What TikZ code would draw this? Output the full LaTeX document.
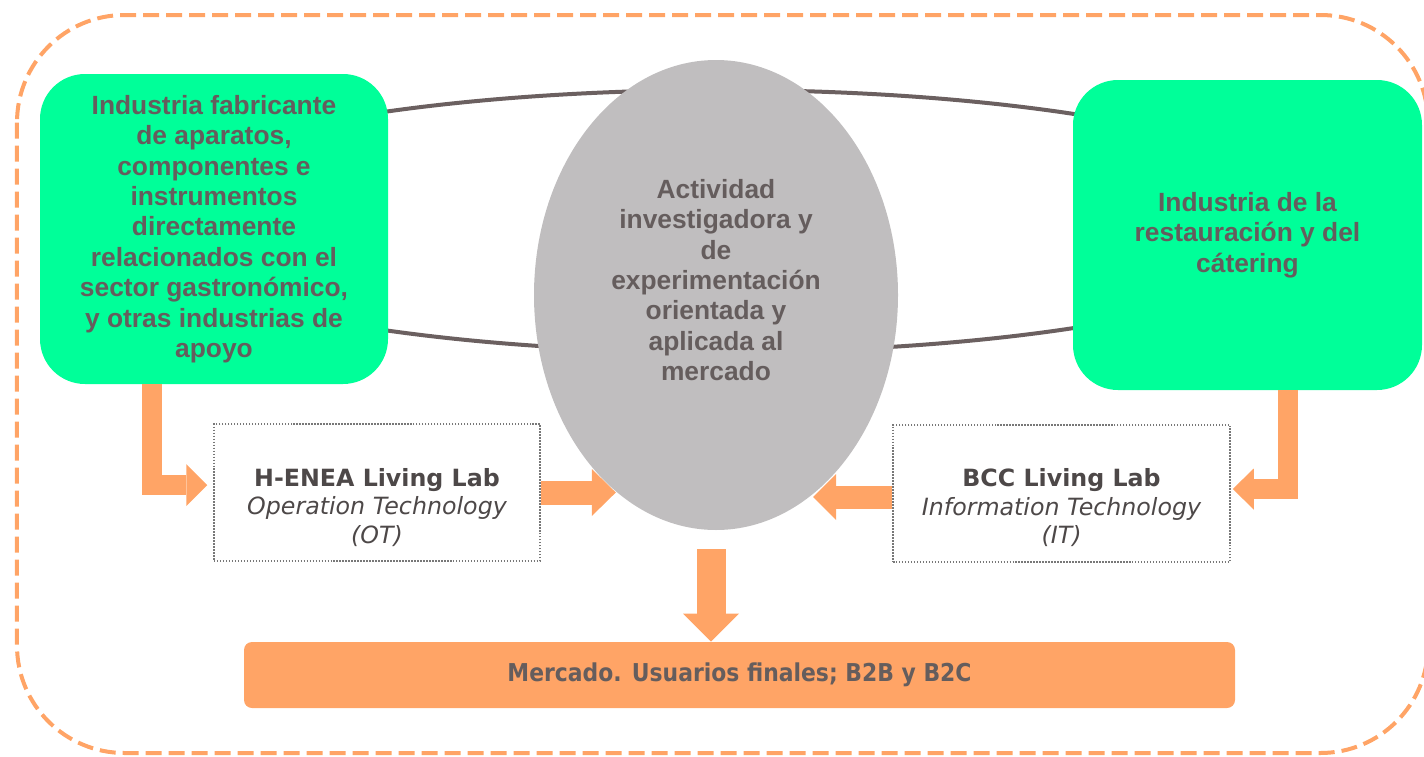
\documentclass[tikz,border=0pt]{standalone}
\usepackage{fontspec}
\setmainfont{Liberation Sans}
\newfontfamily\labfont{DejaVu Sans}
\newfontfamily\mercfont[FakeStretch=0.89]{DejaVu Sans}
\usetikzlibrary{arrows.meta,shapes.geometric}
\definecolor{verde}{RGB}{0,255,153}
\definecolor{naranja}{RGB}{255,164,102}
\definecolor{grisel}{RGB}{192,190,191}
\definecolor{grislazo}{RGB}{107,96,96}
\definecolor{gristexto}{RGB}{101,93,93}
\definecolor{grislab}{RGB}{77,72,72}
\definecolor{grispunto}{RGB}{120,120,120}
\tikzset{
  rotulo/.style={align=center, text=gristexto, font=\bfseries\fontsize{15}{17.3}\selectfont},
  sector/.style={rotulo, rectangle, rounded corners=0.9cm, fill=verde, minimum width=#1, minimum height=6.2cm},
  lab/.style={draw=grispunto, line width=0.85pt, dash pattern=on 0.85pt off 0.85pt, minimum height=2.74cm},
  labtext/.style={align=center, text=grislab, font=\labfont\fontsize{13.5}{16.2}\selectfont},
  flecha/.style n args={3}{draw=naranja, line width=#1, -{Triangle[width=#2, length=#3, line width=0pt]}},
}
\begin{document}
\begin{tikzpicture}
                \useasboundingbox (0,0) rectangle (28.48,-15.12);
                \draw[naranja, line width=0.08cm, dash pattern=on 0.32cm off 0.14cm, rounded corners=2.15cm] (0.34,-0.30) rectangle (28.56,-15.06);

                \node[ellipse, draw=grislazo, line width=0.08cm, minimum width=24.4cm, minimum height=5.24cm] (lazo) at (14.44,-4.42) {};

                \node[sector=6.96cm] (industria) at (4.28,-4.58) {Industria fabricante\\de aparatos,\\componentes e\\instrumentos\\directamente\\relacionados con el\\sector gastronómico,\\y otras industrias de\\apoyo};
                \node[sector=6.98cm] (restauracion) at (24.95,-4.70) {Industria de la\\restauración y del\\cátering};

                \node[ellipse, fill=grisel, inner sep=0pt, minimum width=7.28cm, minimum height=9.4cm] (actividad) at (14.32,-5.90) {};
                \node[rotulo] at (14.32,-5.60) {Actividad\\investigadora y\\de\\experimentación\\orientada y\\aplicada al\\mercado};

                \node[lab, minimum width=6.52cm] (henea) at (7.54,-9.85) {};
                \node[labtext] at (7.54,-10.15) {{\bfseries H-ENEA Living Lab}\\{\itshape Operation Technology}\\{\itshape (OT)}};
                \node[lab, minimum width=6.74cm] (bcc) at (21.23,-9.87) {};
                \node[labtext] at (21.23,-10.16) {{\bfseries BCC Living Lab}\\{\itshape Information Technology}\\{\itshape (IT)}};

                \node[fill=naranja, rounded corners=0.16cm, minimum width=19.82cm, minimum height=1.32cm, text=gristexto, font=\mercfont\bfseries\fontsize{14}{16}\selectfont] (mercado) at (14.79,-13.50) {Mercado. Usuarios finales; B2B y B2C};

                % flechas
                \draw[flecha={0.4cm}{0.84cm}{0.42cm}] ([xshift=-1.24cm]industria.south) |- ([xshift=-0.12cm,yshift=0.15cm]henea.west);
                \draw[flecha={0.48cm}{0.94cm}{0.48cm}] (henea.east) -- (henea.east -| actividad.243);
                \draw[flecha={0.46cm}{0.92cm}{0.46cm}] ([yshift=-0.07cm]bcc.west) -- ([yshift=-0.07cm]bcc.west -| actividad.296);
                \draw[flecha={0.4cm}{0.82cm}{0.42cm}] ([xshift=0.81cm]restauracion.south) |- ([xshift=0.04cm,yshift=0.09cm]bcc.east);
                \draw[flecha={0.58cm}{1.12cm}{0.56cm}] ([xshift=-0.1cm,yshift=-0.38cm]actividad.south) -- ([xshift=-0.1cm]actividad.south |- mercado.north);
            \end{tikzpicture}
\end{document}
